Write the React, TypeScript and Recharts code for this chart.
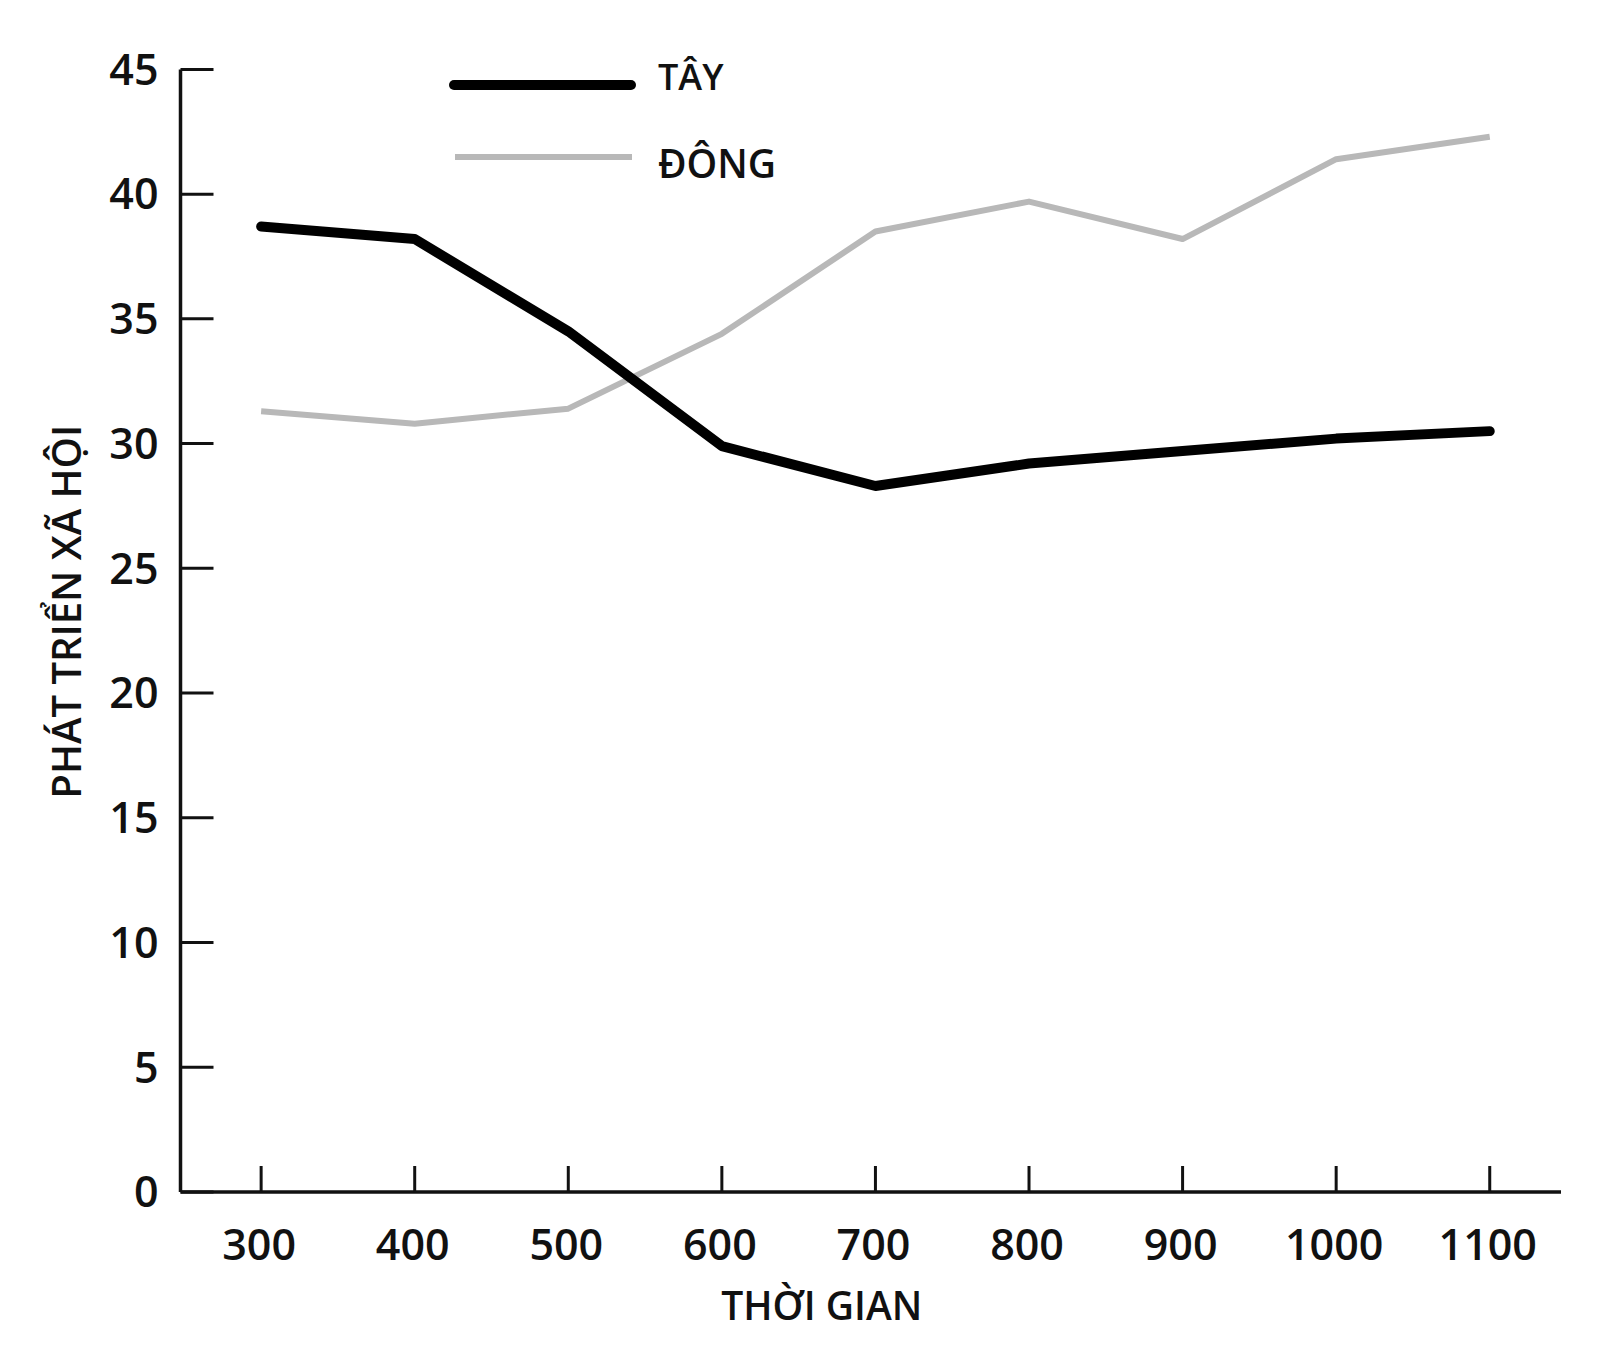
import React from "react";
import { LineChart, Line, XAxis, YAxis, Legend } from "recharts";

const years = [300, 400, 500, 600, 700, 800, 900, 1000, 1100];
const tay = [38.7, 38.2, 34.5, 29.9, 28.3, 29.2, 29.7, 30.2, 30.5];
const dong = [31.3, 30.8, 31.4, 34.4, 38.5, 39.7, 38.2, 41.4, 42.3];
const yTicks = [0, 5, 10, 15, 20, 25, 30, 35, 40, 45];
const xTicks = [300, 400, 500, 600, 700, 800, 900, 1000, 1100];

const seriesNames = { tay: "TÂY", dong: "ĐÔNG" };
const yTitle = "PHÁT TRIỂN XÃ HỘI";
const xTitle = "THỜI GIAN";

const data = years.map((y, i) => ({ year: y, tay: tay[i], dong: dong[i] }));

const FONT = "'Open Sans', 'Noto Sans', sans-serif";
const INK = "#111";
const WEIGHT = 600;

const YTick = (props: any) => {
  const { x, y, payload } = props;
  return (
    <g>
      <line x1={x} y1={y} x2={x + 33} y2={y} stroke={INK} strokeWidth={3} />
      <text x={x - 22} y={y} dy="0.357em" textAnchor="end" fontFamily={FONT} fontWeight={WEIGHT} fontSize={43} fill={INK}>
        {payload.value}
      </text>
    </g>
  );
};

const XTick = (props: any) => {
  const { x, y, payload } = props;
  return (
    <g>
      <line x1={x} y1={y} x2={x} y2={y - 26} stroke={INK} strokeWidth={3} />
      <text x={x - 2} y={y + 68} textAnchor="middle" fontFamily={FONT} fontWeight={WEIGHT} fontSize={43} fill={INK}>
        {payload.value}
      </text>
    </g>
  );
};

const YTitle = (props: any) => {
  const vb = props.viewBox || {};
  const cx = vb.x - 13.5;
  const cy = vb.y + vb.height / 2 - 19;
  return (
    <text
      x={cx}
      y={cy}
      dy="0.357em"
      transform={`rotate(-90 ${cx} ${cy})`}
      textAnchor="middle"
      fontFamily={FONT}
      fontWeight={WEIGHT}
      fontSize={40}
      fill={INK}
    >
      {yTitle}
    </text>
  );
};

const XTitle = (props: any) => {
  const vb = props.viewBox || {};
  const cx = vb.x + vb.width / 2 - 49;
  return (
    <text x={cx} y={vb.y + 128} textAnchor="middle" fontFamily={FONT} fontWeight={WEIGHT} fontSize={39} fill={INK}>
      {xTitle}
    </text>
  );
};

const LegendContent = (props: any) => {
  const payload = props.payload || [];
  const tayItem = payload.find((p: any) => p.dataKey === "tay");
  const dongItem = payload.find((p: any) => p.dataKey === "dong");
  return (
    <div style={{ position: "relative", height: 0, width: 0 }}>
      <svg
        width={900}
        height={220}
        style={{ position: "absolute", left: 0, top: 0, overflow: "visible" }}
      >
        <line x1={454} y1={85} x2={631} y2={85} stroke="#000" strokeWidth={10} strokeLinecap="round" />
        <text x={658} y={90} fontFamily={FONT} fontWeight={WEIGHT} fontSize={36} fill={INK}>
          {tayItem ? tayItem.value : seriesNames.tay}
        </text>
        <line x1={455} y1={157} x2={632} y2={157} stroke="#b8b8b8" strokeWidth={6} />
        <text x={658} y={178} fontFamily={FONT} fontWeight={WEIGHT} fontSize={39} fill={INK}>
          {dongItem ? dongItem.value : seriesNames.dong}
        </text>
      </svg>
    </div>
  );
};

export default function App() {
  return (
    <div style={{ position: "absolute", left: 0, top: 0, width: 1600, height: 1371, background: "#fff" }}>
      <LineChart
        width={1600}
        height={1371}
        data={data}
        margin={{ top: 69.4, right: 39, bottom: 79, left: 80.5 }}
      >
        <XAxis
          dataKey="year"
          type="number"
          domain={[247.5, 1146.4]}
          ticks={xTicks}
          allowDataOverflow
          height={100}
          tickSize={0}
          tickMargin={0}
          tickLine={false}
          axisLine={{ stroke: INK, strokeWidth: 3.5 }}
          tick={<XTick />}
          label={<XTitle />}
          interval={0}
        />
        <YAxis
          type="number"
          domain={[0, 45]}
          ticks={yTicks}
          width={100}
          tickSize={0}
          tickMargin={0}
          tickLine={false}
          axisLine={{ stroke: INK, strokeWidth: 3.5 }}
          tick={<YTick />}
          label={<YTitle />}
          interval={0}
        />
        <Legend
          content={<LegendContent />}
          wrapperStyle={{ position: "absolute", left: 0, top: 0, width: 0, height: 0, margin: 0 }}
        />
        <Line
          dataKey="dong"
          name={seriesNames.dong}
          type="linear"
          stroke="#b8b8b8"
          strokeWidth={6}
          dot={false}
          activeDot={false}
          isAnimationActive={false}
          strokeLinejoin="round"
        />
        <Line
          dataKey="tay"
          name={seriesNames.tay}
          type="linear"
          stroke="#000"
          strokeWidth={10}
          dot={false}
          activeDot={false}
          isAnimationActive={false}
          strokeLinejoin="round"
          strokeLinecap="round"
        />
      </LineChart>
    </div>
  );
}
